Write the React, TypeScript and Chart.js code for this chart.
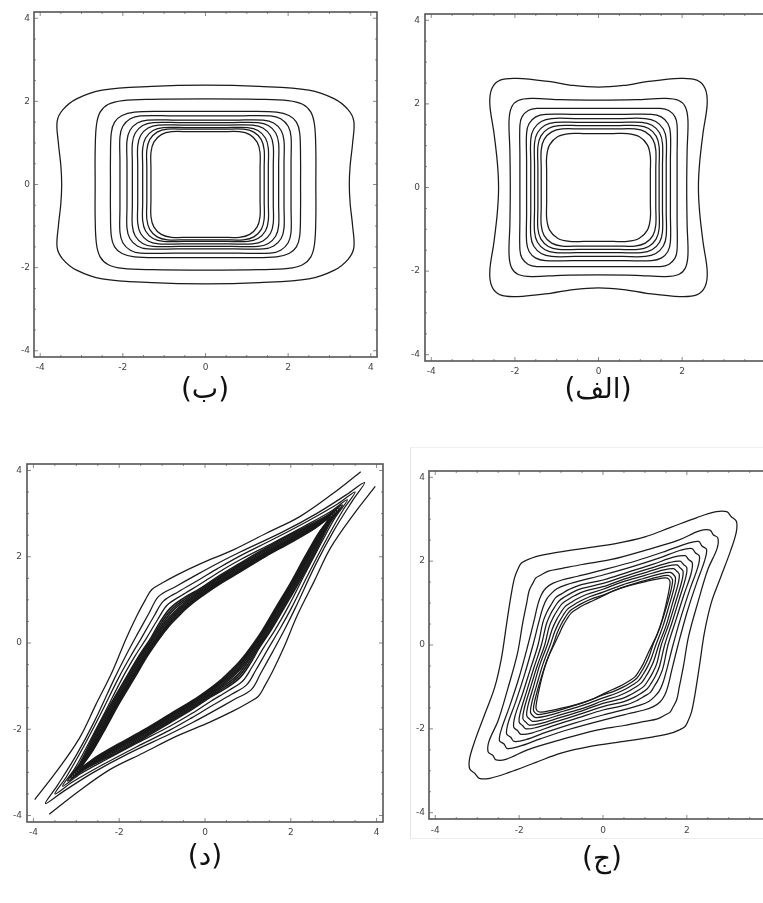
import React, { useEffect, useRef } from "react";
import { Chart, registerables } from "chart.js";

Chart.register(...registerables);

type Pt = [number, number];

// Shared frame scale and tick labels
const AXIS_TICKS = [-4, -2, 0, 2, 4];
const AXIS_MIN = -4.15;
const AXIS_MAX = 4.15;

// (ب) level curves: one quadrant each, from the top crossing (0, b) to the right crossing (a, 0)
const BE_RINGS: Pt[][] = [
  [[0, 2.39], [1.3, 2.36], [2.5, 2.27], [3.12, 2.06], [3.45, 1.8], [3.59, 1.52], [3.56, 1.0], [3.5, 0.45], [3.48, 0]],
  [[0, 2.06], [1.3, 2.05], [2.0, 2.02], [2.35, 1.93], [2.55, 1.74], [2.64, 1.42], [2.67, 0.8], [2.67, 0]],
  [[0, 1.76], [1.1, 1.76], [1.72, 1.74], [2.02, 1.66], [2.2, 1.5], [2.28, 1.24], [2.3, 0.6], [2.3, 0]],
  [[0, 1.65], [0.79, 1.65], [1.57, 1.65], [1.82, 1.58], [2.0, 1.4], [2.07, 1.15], [2.07, 0.58], [2.07, 0]],
  [[0, 1.55], [0.7, 1.55], [1.4, 1.55], [1.65, 1.48], [1.83, 1.3], [1.9, 1.05], [1.9, 0.53], [1.9, 0]],
  [[0, 1.49], [0.64, 1.49], [1.27, 1.49], [1.52, 1.42], [1.7, 1.24], [1.77, 0.99], [1.77, 0.5], [1.77, 0]],
  [[0, 1.43], [0.57, 1.43], [1.14, 1.43], [1.39, 1.36], [1.57, 1.18], [1.64, 0.93], [1.64, 0.47], [1.64, 0]],
  [[0, 1.37], [0.51, 1.37], [1.02, 1.37], [1.27, 1.3], [1.45, 1.12], [1.52, 0.87], [1.52, 0.44], [1.52, 0]],
  [[0, 1.33], [0.46, 1.33], [0.92, 1.33], [1.17, 1.26], [1.35, 1.08], [1.42, 0.83], [1.42, 0.42], [1.42, 0]],
  [[0, 1.27], [0.41, 1.27], [0.82, 1.27], [1.07, 1.2], [1.25, 1.02], [1.32, 0.77], [1.32, 0.39], [1.32, 0]],
];

// (الف) level curves, same quadrant convention
const ALEF_RINGS: Pt[][] = [
  [[0, 2.4], [0.6, 2.44], [1.15, 2.53], [1.95, 2.61], [2.35, 2.57], [2.55, 2.37], [2.6, 2.0], [2.5, 1.3], [2.42, 0.6], [2.39, 0]],
  [[0, 2.09], [0.9, 2.1], [1.6, 2.13], [1.92, 2.08], [2.08, 1.92], [2.14, 1.6], [2.12, 0.9], [2.11, 0]],
  [[0, 1.89], [0.74, 1.89], [1.48, 1.89], [1.68, 1.84], [1.83, 1.69], [1.88, 1.49], [1.88, 0.75], [1.88, 0]],
  [[0, 1.75], [0.64, 1.75], [1.27, 1.75], [1.5, 1.69], [1.66, 1.53], [1.72, 1.3], [1.72, 0.65], [1.72, 0]],
  [[0, 1.65], [0.56, 1.65], [1.12, 1.65], [1.37, 1.58], [1.55, 1.4], [1.62, 1.15], [1.62, 0.58], [1.62, 0]],
  [[0, 1.56], [0.52, 1.56], [1.03, 1.56], [1.28, 1.49], [1.46, 1.31], [1.53, 1.06], [1.53, 0.53], [1.53, 0]],
  [[0, 1.48], [0.48, 1.48], [0.95, 1.48], [1.2, 1.41], [1.38, 1.23], [1.45, 0.98], [1.45, 0.49], [1.45, 0]],
  [[0, 1.4], [0.44, 1.4], [0.87, 1.4], [1.12, 1.33], [1.3, 1.15], [1.37, 0.9], [1.37, 0.45], [1.37, 0]],
  [[0, 1.29], [0.35, 1.29], [0.69, 1.29], [0.97, 1.22], [1.17, 1.02], [1.24, 0.74], [1.24, 0.37], [1.24, 0]],
];

// (ج) level curves: one quarter each, from the diagonal corner (t, t) along the top edge to (-s, s)
const JIM_RINGS: Pt[][] = [
  [[3.06, 3.06], [2.95, 3.18], [2.7, 3.18], [2.24, 3.04], [1.6, 2.8], [1.0, 2.58], [0.3, 2.42], [-0.5, 2.3], [-1.2, 2.19], [-1.6, 2.11], [-1.83, 2.02], [-1.95, 1.95]],
  [[2.63, 2.63], [2.55, 2.74], [2.3, 2.72], [1.8, 2.5], [1.04, 2.27], [0.2, 2.04], [-0.5, 1.92], [-1.0, 1.82], [-1.3, 1.76], [-1.48, 1.67], [-1.6, 1.6]],
  [[2.36, 2.36], [2.28, 2.47], [2.0, 2.42], [1.5, 2.24], [0.8, 2.01], [0, 1.79], [-0.6, 1.64], [-0.98, 1.55], [-1.2, 1.47], [-1.36, 1.36]],
  [[2.2, 2.2], [2.12, 2.3], [1.85, 2.26], [1.35, 2.08], [0.7, 1.87], [0, 1.67], [-0.55, 1.53], [-0.9, 1.43], [-1.1, 1.34], [-1.23, 1.23]],
  [[2.04, 2.04], [1.96, 2.13], [1.7, 2.1], [1.2, 1.93], [0.6, 1.74], [0, 1.55], [-0.55, 1.43], [-0.82, 1.32], [-0.99, 1.22], [-1.13, 1.13]],
  [[1.92, 1.92], [1.84, 2.0], [1.6, 1.97], [1.1, 1.82], [0.55, 1.65], [0, 1.47], [-0.5, 1.35], [-0.74, 1.25], [-0.91, 1.15], [-1.05, 1.05]],
  [[1.84, 1.84], [1.76, 1.91], [1.52, 1.88], [1.05, 1.74], [0.5, 1.57], [0, 1.39], [-0.45, 1.28], [-0.67, 1.18], [-0.84, 1.08], [-0.98, 0.98]],
  [[1.76, 1.76], [1.68, 1.82], [1.45, 1.79], [1.0, 1.66], [0.45, 1.5], [0, 1.33], [-0.38, 1.21], [-0.6, 1.11], [-0.77, 1.01], [-0.91, 0.91]],
  [[1.68, 1.68], [1.6, 1.73], [1.38, 1.7], [0.95, 1.58], [0.45, 1.43], [0, 1.26], [-0.32, 1.15], [-0.54, 1.05], [-0.71, 0.95], [-0.85, 0.85]],
  [[1.62, 1.62], [1.54, 1.66], [1.3, 1.62], [0.9, 1.51], [0.4, 1.35], [0, 1.19], [-0.27, 1.1], [-0.49, 1.0], [-0.66, 0.9], [-0.8, 0.8]],
  [[1.57, 1.57], [1.48, 1.6], [1.04, 1.52], [0.6, 1.41], [0.25, 1.29], [0, 1.17], [-0.23, 1.06], [-0.45, 0.96], [-0.62, 0.86], [-0.76, 0.76]],
];

// (د) outermost curve, left open at both ends: upper branch from its top end to the (-s, s) crossing
const DAL_OPEN: Pt[] = [[3.63, 3.97], [2.99, 3.47], [2.21, 2.93], [1.44, 2.55], [0.66, 2.16], [-0.1, 1.84], [-0.65, 1.58], [-1.0, 1.39], [-1.24, 1.24]];

// (د) closed level curves outside the dark band, outside in
const DAL_RINGS: Pt[][] = [
  [[3.72, 3.72], [3.3, 3.44], [2.6, 3.0], [1.8, 2.57], [0.82, 2.11], [0.3, 1.85], [-0.2, 1.58], [-0.7, 1.3], [-1.08, 1.08]],
  [[3.5, 3.5], [3.1, 3.23], [2.4, 2.83], [1.6, 2.41], [0.82, 2.02], [0.3, 1.73], [-0.12, 1.48], [-0.62, 1.19], [-0.97, 0.97]],
  [[3.32, 3.32], [2.9, 3.03], [2.3, 2.7], [1.6, 2.33], [0.82, 1.93], [0.3, 1.63], [-0.12, 1.36], [-0.55, 1.1], [-0.88, 0.88]],
];

// (د) tightly packed level curves forming the dark band, outside in
const DAL_BAND: Pt[][] = [
  [[3.2, 3.2], [2.79, 2.92], [2.0, 2.52], [1.4, 2.19], [0.82, 1.85], [0.3, 1.54], [-0.12, 1.26], [-0.5, 1.04], [-0.81, 0.81]],
  [[3.13, 3.13], [2.73, 2.86], [2.0, 2.49], [1.4, 2.16], [0.82, 1.82], [0.3, 1.51], [-0.12, 1.23], [-0.48, 1.01], [-0.78, 0.78]],
  [[3.07, 3.07], [2.68, 2.81], [2.0, 2.46], [1.4, 2.13], [0.82, 1.79], [0.3, 1.48], [-0.12, 1.2], [-0.46, 0.98], [-0.75, 0.75]],
  [[3.02, 3.02], [2.64, 2.77], [2.0, 2.43], [1.4, 2.1], [0.82, 1.76], [0.3, 1.45], [-0.12, 1.17], [-0.45, 0.95], [-0.72, 0.72]],
  [[2.98, 2.98], [2.6, 2.73], [2.0, 2.41], [1.4, 2.08], [0.82, 1.73], [0.3, 1.42], [-0.12, 1.14], [-0.44, 0.92], [-0.7, 0.7]],
  [[2.94, 2.94], [2.57, 2.7], [2.0, 2.39], [1.4, 2.06], [0.82, 1.71], [0.3, 1.4], [-0.12, 1.11], [-0.43, 0.89], [-0.68, 0.68]],
  [[2.91, 2.91], [2.54, 2.67], [2.0, 2.37], [1.4, 2.04], [0.82, 1.69], [0.3, 1.38], [-0.12, 1.09], [-0.42, 0.87], [-0.66, 0.66]],
  [[2.88, 2.88], [2.52, 2.64], [2.0, 2.35], [1.4, 2.02], [0.82, 1.67], [0.3, 1.36], [-0.12, 1.07], [-0.41, 0.85], [-0.64, 0.64]],
  [[2.86, 2.86], [2.5, 2.62], [2.0, 2.33], [1.4, 2.0], [0.82, 1.65], [0.3, 1.34], [-0.12, 1.05], [-0.4, 0.83], [-0.62, 0.62]],
];

const CAPTIONS = { be: "(ب)", alef: "(الف)", dal: "(د)", jim: "(ج)" };

const INK = "#1a1a1a";
const FRAME = "#555555";
const TICK_TEXT = "#444444";

// Closed curve from a quadrant, mirrored in both axes
function quadLoop(q: Pt[]): Pt[] {
  const q4 = [...q].reverse().map(([x, y]) => [x, -y] as Pt);
  const q3 = q.map(([x, y]) => [-x, -y] as Pt);
  const q2 = [...q].reverse().map(([x, y]) => [-x, y] as Pt);
  return [...q, ...q4.slice(1), ...q3.slice(1), ...q2.slice(1)];
}

// Half curve from a quarter, mirrored across the line y = -x
function diagHalf(q: Pt[]): Pt[] {
  const r = [...q].reverse().map(([x, y]) => [-y, -x] as Pt);
  return [...q, ...r.slice(1)];
}

function turn(p: Pt[]): Pt[] {
  return p.map(([x, y]) => [-x, -y] as Pt);
}

function diagLoop(q: Pt[]): Pt[] {
  const up = diagHalf(q);
  return [...up, ...turn(up).slice(1)];
}

const lineBase = {
  borderColor: INK,
  borderWidth: 1.25,
  pointRadius: 0,
  pointHoverRadius: 0,
  fill: false,
  tension: 0.35,
};

// A closed curve: padded by one point on each side so the spline stays smooth where it joins
function loopDataset(pts: Pt[], width = 1.25) {
  const n = pts.length;
  const ext = [pts[n - 2], ...pts, pts[1]];
  const last = ext.length - 1;
  return {
    ...lineBase,
    borderWidth: width,
    data: ext.map(([x, y]) => ({ x, y })),
    segment: {
      borderColor: (ctx: any) =>
        ctx.p0DataIndex === 0 || ctx.p1DataIndex === last ? "rgba(0,0,0,0)" : undefined,
    },
  };
}

function openDataset(pts: Pt[]) {
  return { ...lineBase, data: pts.map(([x, y]) => ({ x, y })) };
}

const framePlugin = {
  id: "frameBox",
  afterDatasetsDraw(chart: any) {
    const { ctx, chartArea: a, scales } = chart;
    ctx.save();
    ctx.strokeStyle = "#8a8a8a";
    ctx.lineWidth = 1;
    for (let v = -4; v <= 4.001; v += 0.5) {
      const major = Math.abs(v % 2) < 1e-6;
      const len = major ? 4 : 2;
      const px = scales.x.getPixelForValue(v);
      const py = scales.y.getPixelForValue(v);
      ctx.beginPath();
      ctx.moveTo(px, a.bottom);
      ctx.lineTo(px, a.bottom - len);
      ctx.moveTo(px, a.top);
      ctx.lineTo(px, a.top + len);
      ctx.moveTo(a.left, py);
      ctx.lineTo(a.left + len, py);
      ctx.moveTo(a.right, py);
      ctx.lineTo(a.right - len, py);
      ctx.stroke();
    }
    ctx.strokeStyle = FRAME;
    ctx.lineWidth = 1.6;
    ctx.strokeRect(a.left, a.top, a.right - a.left, a.bottom - a.top);
    ctx.restore();
  },
};

const Y_AXIS_W = 26;
const X_AXIS_H = 22;
const PAD_T = 8;
const PAD_R = 8;

type PanelSpec = {
  key: "be" | "alef" | "dal" | "jim";
  left: number;
  top: number;
  width: number;
  height: number;
  xPad: number;
  yPad: number;
  caption: { x: number; y: number };
};

const PANELS: PanelSpec[] = [
  { key: "be", left: 34, top: 12, width: 343, height: 345, xPad: 5, yPad: 4, caption: { x: 205, y: 389 } },
  { key: "alef", left: 425, top: 14, width: 347, height: 347, xPad: 5, yPad: 5, caption: { x: 598, y: 389 } },
  { key: "dal", left: 27, top: 464, width: 356, height: 358, xPad: 5, yPad: 5, caption: { x: 205, y: 856 } },
  { key: "jim", left: 429, top: 471, width: 348, height: 348, xPad: 6, yPad: 4, caption: { x: 602, y: 858 } },
];

function datasetsFor(key: PanelSpec["key"]) {
  if (key === "be") return BE_RINGS.map((q) => loopDataset(quadLoop(q)));
  if (key === "alef") return ALEF_RINGS.map((q) => loopDataset(quadLoop(q)));
  if (key === "jim") return JIM_RINGS.map((q) => loopDataset(diagLoop(q)));
  const upper = diagHalf(DAL_OPEN);
  return [
    openDataset(upper),
    openDataset(turn(upper)),
    ...DAL_RINGS.map((q) => loopDataset(diagLoop(q))),
    ...DAL_BAND.map((q) => loopDataset(diagLoop(q), 1.6)),
  ];
}

function tickFont() {
  return { family: "'DejaVu Sans', 'Liberation Sans', sans-serif", size: 9 };
}

function ContourPanel({ spec }: { spec: PanelSpec }) {
  const ref = useRef<HTMLCanvasElement | null>(null);
  const cw = spec.width + Y_AXIS_W + PAD_R;
  const ch = spec.height + PAD_T + X_AXIS_H;

  useEffect(() => {
    if (!ref.current) return;
    const setTicks = (axis: any) => {
      axis.ticks = AXIS_TICKS.map((v) => ({ value: v }));
    };
    const fixAxis = (size: "width" | "height", value: number) => (axis: any) => {
      axis[size] = value;
      axis.paddingLeft = 0;
      axis.paddingRight = 0;
      axis.paddingTop = 0;
      axis.paddingBottom = 0;
    };
    const chart = new Chart(ref.current, {
      type: "line",
      data: { datasets: datasetsFor(spec.key) as any },
      options: {
        animation: false,
        responsive: false,
        maintainAspectRatio: false,
        events: [],
        layout: { padding: { left: 0, top: PAD_T, right: PAD_R, bottom: 0 } },
        plugins: { legend: { display: false }, tooltip: { enabled: false } },
        scales: {
          x: {
            type: "linear",
            min: AXIS_MIN,
            max: AXIS_MAX,
            grid: { display: false, drawTicks: false },
            border: { display: false },
            ticks: {
              padding: spec.xPad,
              color: TICK_TEXT,
              font: tickFont(),
              maxRotation: 0,
              autoSkip: false,
              callback: (v: any) => String(v),
            },
            afterBuildTicks: setTicks,
            afterFit: fixAxis("height", X_AXIS_H),
          },
          y: {
            type: "linear",
            min: AXIS_MIN,
            max: AXIS_MAX,
            grid: { display: false, drawTicks: false },
            border: { display: false },
            ticks: {
              padding: spec.yPad,
              color: TICK_TEXT,
              font: tickFont(),
              autoSkip: false,
              callback: (v: any) => String(v),
            },
            afterBuildTicks: setTicks,
            afterFit: fixAxis("width", Y_AXIS_W),
          },
        },
      } as any,
      plugins: [framePlugin],
    });
    return () => chart.destroy();
  }, [spec]);

  return (
    <canvas
      ref={ref}
      width={cw}
      height={ch}
      style={{
        position: "absolute",
        left: spec.left - Y_AXIS_W,
        top: spec.top - PAD_T,
        width: cw,
        height: ch,
      }}
    />
  );
}

export default function App() {
  return (
    <div
      style={{
        position: "fixed",
        left: 0,
        top: 0,
        width: 763,
        height: 903,
        overflow: "hidden",
        background: "#ffffff",
      }}
    >
      <div
        style={{
          position: "absolute",
          left: 410,
          top: 447,
          width: 400,
          height: 390,
          borderLeft: "1px solid #e4e4e4",
          borderTop: "1px solid #f0f0f0",
          borderBottom: "1px solid #ececec",
        }}
      />
      {PANELS.map((p) => (
        <ContourPanel key={p.key} spec={p} />
      ))}
      {PANELS.map((p) => (
        <div
          key={p.key + "-cap"}
          dir="rtl"
          style={{
            position: "absolute",
            left: p.caption.x - 70,
            top: p.caption.y - 22,
            width: 140,
            height: 44,
            lineHeight: "44px",
            textAlign: "center",
            fontFamily: "'DejaVu Sans', sans-serif",
            fontSize: 28,
            color: "#111",
          }}
        >
          {CAPTIONS[p.key]}
        </div>
      ))}
    </div>
  );
}
